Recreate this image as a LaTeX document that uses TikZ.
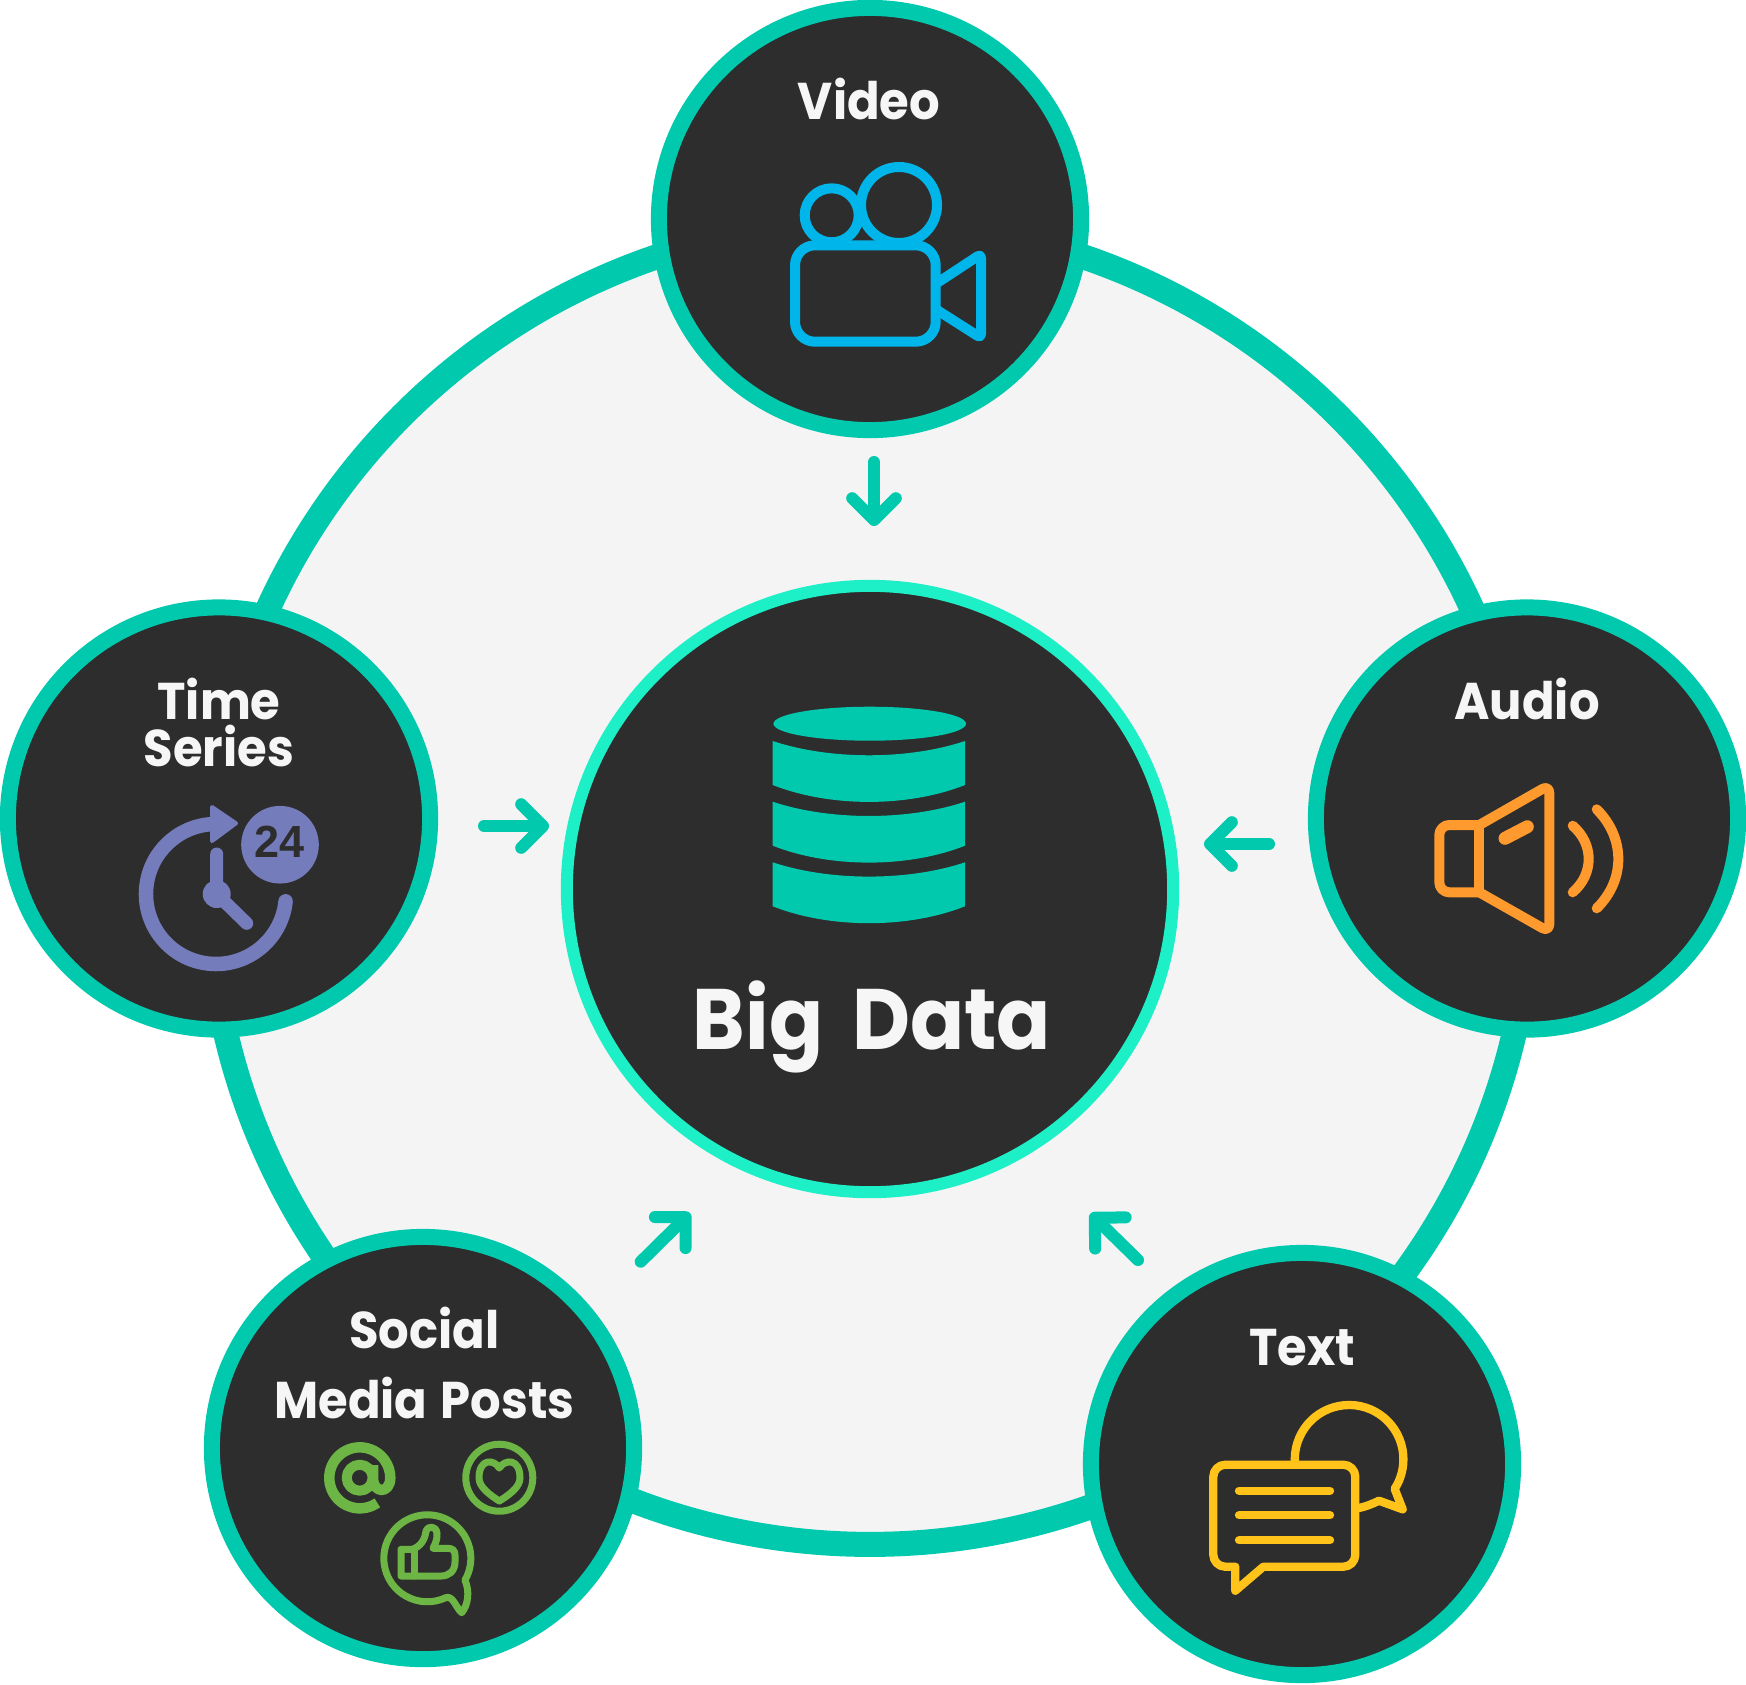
\documentclass[tikz,border=0pt]{standalone}
\usepackage{fontspec}
\setmainfont[FakeStretch=0.93]{Poppins}
\newfontfamily\digitfont{Liberation Sans}
\usetikzlibrary{arrows.meta}
\definecolor{ringteal}{HTML}{00C9AD}
\definecolor{coreedge}{HTML}{1DEFC6}
\definecolor{discdark}{HTML}{2D2D2D}
\definecolor{paleback}{HTML}{F4F4F4}
\definecolor{titlewhite}{HTML}{F6F6F6}
\definecolor{videoblue}{HTML}{00B5E9}
\definecolor{audioorange}{HTML}{FF9A2E}
\definecolor{textyellow}{HTML}{FFC31A}
\definecolor{socialgreen}{HTML}{6DB544}
\definecolor{timeviolet}{HTML}{757CBB}
\tikzset{
	disc/.style={shape=circle,draw=ringteal,fill=discdark,line width=0.16cm,minimum size=4.22cm,inner sep=0,outer sep=0},
	title/.style={text=titlewhite,inner sep=0,align=center,anchor=base,font=\bfseries\fontsize{14.7}{13.1}\selectfont},
	flow/.style={line width=0.12cm,line cap=round,-{Straight Barb[round,length=6.2pt,width=12.4pt]},ringteal},
	icon/.style={line cap=round,line join=round,line width=0.1cm},
}
\begin{document}
\begin{tikzpicture}[x=0.01cm,y=-0.01cm]
	\useasboundingbox (0,0) rectangle (1746,1684);
	\node[shape=circle,draw=ringteal,fill=paleback,line width=0.25cm,minimum size=13.22cm,inner sep=0] (ring) at (870,883) {};
	\node[shape=circle,draw=coreedge,fill=discdark,line width=0.12cm,minimum size=6.06cm,inner sep=0] (core) at (870,889) {};
	\begin{scope}[every node/.style={disc}]
		\node (video) at (870,219) {};
		\node (series) at (219,818.5) {};
		\node (audio) at (1527,818.5) {};
		\node (social) at (423,1448) {};
		\node (text) at (1302,1464) {};
	\end{scope}
	\node[title,font=\bfseries\fontsize{24.4}{25}\selectfont] (coretitle) at (872,1049) {Big\hspace{0.14em} Data};
	\node[title] (videotitle) at (869,119) {Video};
	\node[title] (seriestitle) at (219,766) {Time\\Series};
	\node[title] (audiotitle) at (1527,719.5) {Audio};
	\node[title,font=\bfseries\fontsize{14.7}{19.9}\selectfont] (socialtitle) at (424.5,1418.5) {Social\\Media\hspace{0.06em} Posts};
	\node[title] (texttitle) at (1302,1365) {Text};
	% arrows
	\coordinate (videofrom) at (874,462);
	\coordinate (videoto) at (874,526);
	\coordinate (seriesfrom) at (484,826);
	\coordinate (seriesto) at (549,826);
	\coordinate (audiofrom) at (1269,844);
	\coordinate (audioto) at (1204,844);
	\coordinate (socialfrom) at (640.7,1261.7);
	\coordinate (socialto) at (690,1213);
	\coordinate (textfrom) at (1138,1260);
	\coordinate (textto) at (1090.5,1213.5);
	\path [flow](videofrom) edge (videoto);
	\path [flow](seriesfrom) edge (seriesto);
	\path [flow](audiofrom) edge (audioto);
	\path [flow](socialfrom) edge (socialto);
	\path [flow](textfrom) edge (textto);
	% database
	\fill[ringteal] (869.7,723.7) ellipse [x radius=96.3,y radius=17];
	\fill[ringteal] (772.7,741) .. controls (830,760) and (908,760) .. (965,741) -- (965,785) .. controls (908,807.5) and (830,807.5) .. (772.7,785) -- cycle;
	\fill[ringteal] (772.7,801.7) .. controls (830,820.7) and (908,820.7) .. (965,801.7) -- (965,845.7) .. controls (908,868.2) and (830,868.2) .. (772.7,845.7) -- cycle;
	\fill[ringteal] (772.7,862.3) .. controls (830,881.3) and (908,881.3) .. (965,862.3) -- (965,906.3) .. controls (908,928.8) and (830,928.8) .. (772.7,906.3) -- cycle;
	% camera
	\begin{scope}[icon,draw=videoblue]
		\draw (831.7,215.3) circle [radius=27];
		\draw (899,205) circle [radius=38];
		\draw[rounded corners=0.2cm] (795,245.3) rectangle (935.7,341.7);
		\draw[rounded corners=0.04cm] (937,283) -- (981,254) -- (981,338) -- (937,310);
	\end{scope}
	% speaker
	\begin{scope}[icon,draw=audioorange]
		\draw[rounded corners=0.1cm] (1479.3,825) -- (1439.3,825) -- (1439.3,892.3) -- (1479.3,892.3);
		\draw (1479.3,825) -- (1479.3,892.3);
		\draw[rounded corners=0.08cm] (1479.3,825) -- (1549.3,785) -- (1549.3,932) -- (1479.3,892.3);
		\draw[line width=0.13cm] (1505,838.3) -- (1527.3,826.7);
		\draw (1572.7,825.7) .. controls (1594,844) and (1594,874) .. (1572.7,892.3);
		\draw (1596.7,809.3) .. controls (1625.5,838) and (1625.5,880) .. (1596.7,908.3);
	\end{scope}
	% clock
	\draw[timeviolet,line cap=round,line width=0.145cm] (285.6,901.3) arc [start angle=6,end angle=265,radius=70];
	\fill[timeviolet,draw=timeviolet,line width=0.04cm,line join=round] (212,807) -- (236,823.3) -- (212,841) -- cycle;
	\draw[timeviolet,line cap=round,line width=0.13cm] (216.7,854) -- (216.7,894) -- (246.7,923.3);
	\fill[timeviolet] (216.7,894) circle [radius=14];
	\node[shape=circle,fill=timeviolet,minimum size=0.776cm,inner sep=0,text depth=1.5pt,text=discdark,font=\digitfont\bfseries\fontsize{12.8}{12}\selectfont] (badge) at (280,844.7) {24};
	% bubbles
	\begin{scope}[icon,line width=0.083cm,draw=textyellow]
		\draw (1295,1464) arc [start angle=175,end angle=393,radius=54.3] -- (1402.7,1509.3) -- (1379,1500.7) .. controls (1372,1504) and (1366,1506.5) .. (1359,1508);
		\draw (1235.3,1566.7) -- (1225.3,1566.7) arc [start angle=90,end angle=180,radius=12] -- (1213.3,1476.7) arc [start angle=180,end angle=270,radius=12] -- (1343.3,1464.7) arc [start angle=270,end angle=360,radius=12] -- (1355.3,1554.7) arc [start angle=0,end angle=90,radius=12] -- (1263.3,1566.7) -- (1235.3,1590.7) -- cycle;
		\draw (1239,1490.7) -- (1330,1490.7);
		\draw (1239,1515.3) -- (1330,1515.3);
		\draw (1239,1540.3) -- (1330,1540.3);
	\end{scope}
	% social marks
	\begin{scope}[icon,line width=0.07cm,draw=socialgreen]
		\draw[line width=0.105cm,line cap=butt] (377.3,1502.8) arc [start angle=55,end angle=360,radius=30.5] .. controls (390.2,1494) and (373,1494) .. (373,1477.7) -- (373,1465);
		\draw[line width=0.1cm] (359.7,1477.7) circle [radius=13];
		\draw (499.3,1477.7) circle [radius=33.5];
		\draw (499.3,1468) .. controls (494,1459) and (479,1458) .. (479,1478) .. controls (479,1487) and (490,1495) .. (499.3,1501) .. controls (509,1495) and (520,1487) .. (520,1478) .. controls (520,1458) and (505,1459) .. (499.3,1468) -- cycle;
		\draw (465,1580) arc [start angle=30,end angle=-295,radius=43.5] .. controls (453,1595) and (456,1608) .. (461.7,1612.7) .. controls (468,1605) and (470,1592) .. (465,1580) -- cycle;
		\draw (401,1549.3) -- (412,1549.3) .. controls (420,1547) and (425,1540) .. (426,1531) .. controls (427,1526) and (436,1525) .. (437,1533) .. controls (437.5,1540) and (435,1544) .. (433,1548.3) -- (448,1548.3) .. controls (453,1548.3) and (455,1551) .. (455,1555) -- (455,1562) .. controls (455,1571) and (449,1576) .. (441,1576) -- (401,1576) -- cycle;
		\draw (414,1549) -- (414,1576);
	\end{scope}
\end{tikzpicture}
\end{document}
